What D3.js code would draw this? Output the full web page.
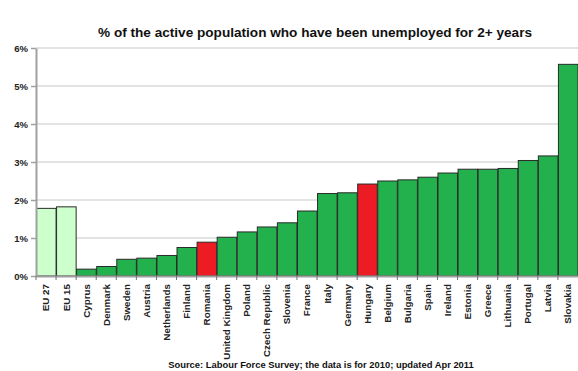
<!DOCTYPE html>
<html>
<head>
<meta charset="utf-8">
<script src="https://cdn.jsdelivr.net/npm/d3@7"></script>
<style>
  html, body { margin: 0; padding: 0; background: #fff; }
  svg { display: block; font-family: "Liberation Sans", Arial, sans-serif; }
</style>
</head>
<body>
<svg id="chart" width="578" height="371"></svg>
<script>
// Long-term unemployment (2+ years) as % of the active population, 2010
const countries = ["EU 27", "EU 15", "Cyprus", "Denmark", "Sweden", "Austria", "Netherlands",
  "Finland", "Romania", "United Kingdom", "Poland", "Czech Republic", "Slovenia", "France",
  "Italy", "Germany", "Hungary", "Belgium", "Bulgaria", "Spain", "Ireland", "Estonia",
  "Greece", "Lithuania", "Portugal", "Latvia", "Slovakia"];
const values = [1.78, 1.82, 0.18, 0.25, 0.44, 0.47, 0.54, 0.75, 0.89, 1.02, 1.16, 1.29, 1.40,
  1.71, 2.17, 2.19, 2.42, 2.50, 2.53, 2.60, 2.71, 2.81, 2.81, 2.83, 3.04, 3.16, 5.57];
// bar group: "eu" aggregate, "hl" highlighted country, "std" other countries
const groups = ["eu", "eu", "std", "std", "std", "std", "std", "std", "hl", "std", "std", "std",
  "std", "std", "std", "std", "hl", "std", "std", "std", "std", "std", "std", "std", "std",
  "std", "std"];
const yTicks = [0, 1, 2, 3, 4, 5, 6];

const fills = { eu: "#ccffcc", hl: "#ed1c24", std: "#22b14c" };
const margin = { left: 36, right: 0, top: 48, bottom: 95 };
const W = 578, H = 371;

const svg = d3.select("#chart");
const x = d3.scaleBand().domain(countries).range([margin.left, W - margin.right]).padding(0);
const y = d3.scaleLinear().domain([0, 6]).range([H - margin.bottom, margin.top]);

// horizontal gridlines
svg.append("g")
  .selectAll("line")
  .data(yTicks.filter(d => d > 0))
  .join("line")
  .attr("x1", margin.left).attr("x2", W - margin.right)
  .attr("y1", d => y(d)).attr("y2", d => y(d))
  .attr("stroke", "#c8c8c8").attr("stroke-width", 1.2);

// bars
svg.append("g")
  .selectAll("rect")
  .data(countries)
  .join("rect")
  .attr("x", d => x(d) + 0.5)
  .attr("y", (d, i) => y(values[i]))
  .attr("width", x.bandwidth() - 0.5)
  .attr("height", (d, i) => y(0) - y(values[i]))
  .attr("fill", (d, i) => fills[groups[i]])
  .attr("stroke", "#2a2a2a")
  .attr("stroke-width", 1);

// y axis
const yAxis = svg.append("g")
  .attr("transform", `translate(${margin.left},0)`)
  .call(d3.axisLeft(y).tickValues(yTicks).tickFormat(d => d + "%").tickSize(5).tickSizeOuter(0));
yAxis.select(".domain").attr("stroke", "#a0a0a0").attr("stroke-width", 2);
yAxis.selectAll(".tick line").attr("stroke", "#a0a0a0").attr("stroke-width", 1.5);
yAxis.selectAll(".tick text")
  .attr("x", -8)
  .attr("fill", "#222")
  .attr("font-size", 9.5)
  .attr("font-weight", "bold");

// x axis
const xAxis = svg.append("g")
  .attr("transform", `translate(0,${y(0)})`)
  .call(d3.axisBottom(x).tickSize(0).tickSizeOuter(0));
xAxis.select(".domain").attr("stroke", "#a0a0a0").attr("stroke-width", 2);
xAxis.selectAll(".tick text")
  .attr("transform", "rotate(-90)")
  .attr("x", -8)
  .attr("y", 0)
  .attr("dy", "0.35em")
  .attr("text-anchor", "end")
  .attr("fill", "#222")
  .attr("font-size", 9.8)
  .attr("font-weight", "bold");

// small ticks at band boundaries
svg.append("g")
  .selectAll("line")
  .data(countries)
  .join("line")
  .attr("x1", d => x(d)).attr("x2", d => x(d))
  .attr("y1", y(0)).attr("y2", y(0) + 4)
  .attr("stroke", "#707070").attr("stroke-width", 1);

// title
svg.append("text")
  .attr("x", 315).attr("y", 37)
  .attr("text-anchor", "middle")
  .attr("font-size", 13.6)
  .attr("font-weight", "bold")
  .attr("fill", "#111")
  .text("% of the active population who have been unemployed for 2+ years");

// source note
svg.append("text")
  .attr("x", 321).attr("y", 368)
  .attr("text-anchor", "middle")
  .attr("font-size", 9.4)
  .attr("font-weight", "bold")
  .attr("fill", "#111")
  .text("Source: Labour Force Survey; the data is for 2010; updated Apr 2011");
</script>
</body>
</html>
